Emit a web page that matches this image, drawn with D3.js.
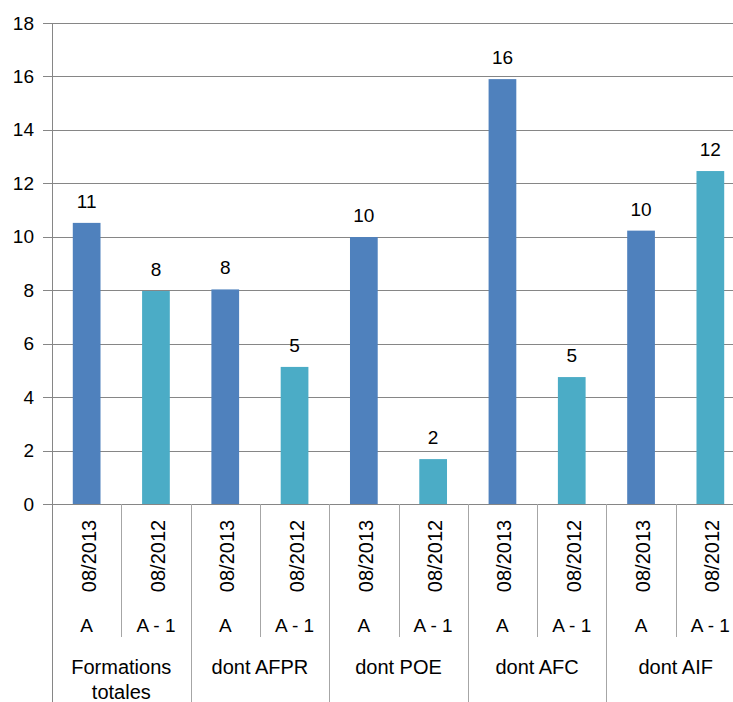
<!DOCTYPE html>
<html lang="fr">
<head>
    <meta charset="utf-8">
    <title>Formations A / A-1</title>
    <script src="https://d3js.org/d3.v7.min.js"></script>
    <style type="text/css">
        body {
            margin: 0;
            padding: 0;
            background: #fff;
            overflow: hidden;
        }
        svg text {
            font-family: 'Liberation Sans', Arial, sans-serif;
            fill: #000;
        }
        .grid line {
            stroke: #868686;
            stroke-width: 1;
            shape-rendering: crispEdges;
        }
        .sep {
            stroke: #a6a6a6;
            stroke-width: 1;
            shape-rendering: crispEdges;
        }
    </style>
</head>
<body>
    <svg></svg>

    <script>
        // Daten
        var groups = ["Formations totales", "dont AFPR", "dont POE", "dont AFC", "dont AIF"];
        var periods = ["08/2013", "08/2012"];
        var periodCodes = ["A", "A - 1"];
        var valuesA = [10.52, 8.03, 9.99, 15.9, 10.23];
        var valuesA1 = [7.97, 5.13, 1.68, 4.75, 12.46];
        var yTicks = [0, 2, 4, 6, 8, 10, 12, 14, 16, 18];
        var colors = ["#4f81bd", "#4bacc6"];

        var W = 733, H = 702;
        var rand = { left: 52, right: 745, top: 23, bottom: 504 };

        var svg = d3.select("svg")
            .attr("width", W)
            .attr("height", H);

        // eine Zeile pro Balken
        var datensatz = [];
        groups.forEach(function (g, gi) {
            [valuesA, valuesA1].forEach(function (vals, si) {
                datensatz.push({
                    key: gi + "-" + si,
                    group: g,
                    gi: gi,
                    si: si,
                    value: vals[gi]
                });
            });
        });

        var y = d3.scaleLinear().domain([0, 18]).range([rand.bottom, rand.top]);

        var cell = d3.scaleBand()
            .domain(datensatz.map(function (d) { return d.key; }))
            .range([rand.left, rand.right]);

        var x = d3.scaleBand()
            .domain(cell.domain())
            .range([rand.left, rand.right])
            .paddingInner(0.6)
            .paddingOuter(0.3);

        // Gitterlinien + Y-Achse
        var yAxis = d3.axisLeft(y)
            .tickValues(yTicks)
            .tickSize(-(rand.right - rand.left))
            .tickPadding(18);

        var gy = svg.append("g")
            .attr("class", "grid")
            .attr("transform", "translate(" + rand.left + ",0)")
            .call(yAxis);
        gy.select(".domain").remove();
        gy.selectAll(".tick line")
            .attr("x1", -9);
        gy.selectAll(".tick text")
            .style("font-size", "19px")
            .attr("fill", "#000");

        // linke Achse
        svg.append("line")
            .attr("class", "sep")
            .attr("x1", rand.left + 0.5).attr("x2", rand.left + 0.5)
            .attr("y1", rand.top).attr("y2", H)
            .style("stroke", "#868686");

        // Balken
        svg.selectAll(".bar")
            .data(datensatz)
            .enter().append("rect")
            .attr("class", "bar")
            .attr("x", function (d) { return x(d.key); })
            .attr("width", x.bandwidth())
            .attr("y", function (d) { return y(d.value); })
            .attr("height", function (d) { return y(0) - y(d.value); })
            .attr("fill", function (d) { return colors[d.si]; });

        // Werte über den Balken
        var fmt = d3.format(".0f");
        svg.selectAll(".lbl")
            .data(datensatz)
            .enter().append("text")
            .attr("class", "lbl")
            .attr("x", function (d) { return x(d.key) + x.bandwidth() / 2; })
            .attr("y", function (d) { return y(d.value) - 15; })
            .attr("text-anchor", "middle")
            .style("font-size", "19px")
            .text(function (d) { return fmt(d.value); });

        // Trennlinien unter der Achse
        svg.selectAll(".cellsep")
            .data(datensatz.slice(1))
            .enter().append("line")
            .attr("class", "sep")
            .attr("x1", function (d) { return Math.round(cell(d.key)) + 0.5; })
            .attr("x2", function (d) { return Math.round(cell(d.key)) + 0.5; })
            .attr("y1", rand.bottom)
            .attr("y2", function (d) { return d.si === 0 ? H : 637; });

        // Datum (gedreht)
        svg.selectAll(".period")
            .data(datensatz)
            .enter().append("text")
            .attr("class", "period")
            .attr("transform", function (d) {
                return "translate(" + (cell(d.key) + cell.bandwidth() / 2 + 2) + ",556) rotate(-90)";
            })
            .attr("text-anchor", "middle")
            .attr("dy", "0.35em")
            .style("font-size", "20px")
            .text(function (d) { return periods[d.si]; });

        // A / A - 1
        svg.selectAll(".code")
            .data(datensatz)
            .enter().append("text")
            .attr("class", "code")
            .attr("x", function (d) { return cell(d.key) + cell.bandwidth() / 2; })
            .attr("y", 632)
            .attr("text-anchor", "middle")
            .style("font-size", "19px")
            .text(function (d) { return periodCodes[d.si]; });

        // Gruppen
        svg.selectAll(".group")
            .data(groups)
            .enter().append("text")
            .attr("class", "group")
            .attr("x", function (g, gi) { return cell(gi + "-1"); })
            .attr("y", 674)
            .attr("text-anchor", "middle")
            .style("font-size", "20px")
            .each(function (g) {
                var words = g === "Formations totales" ? ["Formations", "totales"] : [g];
                var t = d3.select(this);
                words.forEach(function (w, i) {
                    t.append("tspan")
                        .attr("x", t.attr("x"))
                        .attr("dy", i === 0 ? 0 : 25)
                        .text(w);
                });
            });
    </script>
</body>
</html>
